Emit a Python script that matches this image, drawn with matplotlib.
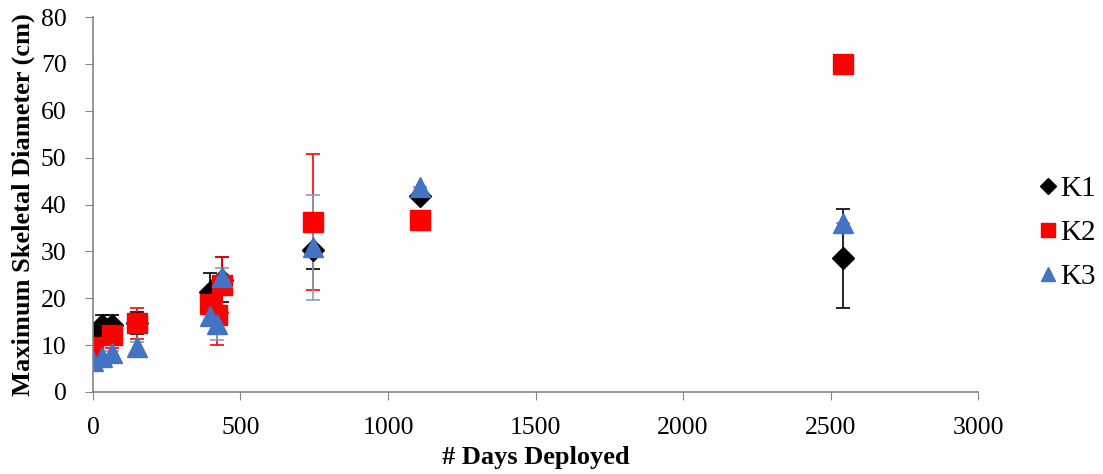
import numpy as np
import matplotlib.pyplot as plt

# days deployed and max skeletal diameter (cm) per site
k1_days = [0, 30, 64, 149, 397, 437, 746, 1108, 2542]
k1_diam = [12.6, 14.3, 14.3, 14.7, 21.3, 24.0, 30.2, 41.8, 28.5]
k1_err = [1.5, 2.1, 2.1, 2.4, 4.0, 4.9, 4.0, 0.0, 10.5]

k2_days = [0, 64, 149, 397, 420, 437, 746, 1108, 2542]
k2_diam = [9.6, 12.2, 14.7, 18.8, 16.4, 22.8, 36.3, 36.7, 70.0]
k2_err = [1.0, 2.8, 3.3, 2.0, 6.3, 6.0, 14.5, 0.0, 0.0]

k3_days = [0, 30, 64, 149, 397, 420, 437, 746, 1108, 2542]
k3_diam = [6.6, 7.5, 8.3, 9.6, 16.2, 14.5, 24.5, 30.9, 43.7, 36.0]
k3_err = [0.5, 0.5, 0.5, 1.1, 2.0, 3.4, 2.0, 11.2, 0.0, 0.0]

plt.rcParams['font.family'] = ['Liberation Serif', 'DejaVu Serif']

fig = plt.figure(figsize=(11.03, 4.74), dpi=100)
ax = fig.add_axes([0.0843, 0.173, 0.8024, 0.791])

ax.errorbar(k1_days, k1_diam, yerr=k1_err, fmt='D', color='black', ms=11,
            ecolor='black', elinewidth=1.2, capsize=5, capthick=1.2, label='K1')
ax.errorbar(k2_days, k2_diam, yerr=k2_err, fmt='s', color='#FF0000', ms=14.5,
            ecolor='#FF0000', elinewidth=1.2, capsize=5, capthick=1.2, label='K2')
ax.errorbar(k3_days, k3_diam, yerr=k3_err, fmt='^', color='#4472C4', ms=14.5,
            ecolor='#8C9BB5', elinewidth=1.2, capsize=5, capthick=1.2, label='K3')

ax.set_xlim(0, 3000)
ax.set_ylim(0, 80)
ax.set_xticks(np.arange(0, 3001, 500))
ax.set_yticks(np.arange(0, 81, 10))
ax.tick_params(labelsize=18.5, length=6, color='#868686', direction='out')
ax.tick_params(axis='y', pad=13)
ax.tick_params(axis='x', pad=12)

for s in ['top', 'right']:
    ax.spines[s].set_visible(False)
for s in ['left', 'bottom']:
    ax.spines[s].set_color('#868686')
    ax.spines[s].set_linewidth(1.2)

ax.set_xlabel('# Days Deployed', fontsize=19, fontweight='bold', labelpad=5)
ax.set_ylabel('Maximum Skeletal Diameter (cm)', fontsize=19, fontweight='bold', labelpad=4)

handles, labels = ax.get_legend_handles_labels()
handles = [h[0] for h in handles]
ax.legend(handles, labels, loc='center left', bbox_to_anchor=(1.04, 0.424),
          frameon=False, fontsize=21, handlelength=0.55, handletextpad=0.15,
          labelspacing=0.6, markerscale=0.72)

fig.savefig('out.png', dpi=100)
